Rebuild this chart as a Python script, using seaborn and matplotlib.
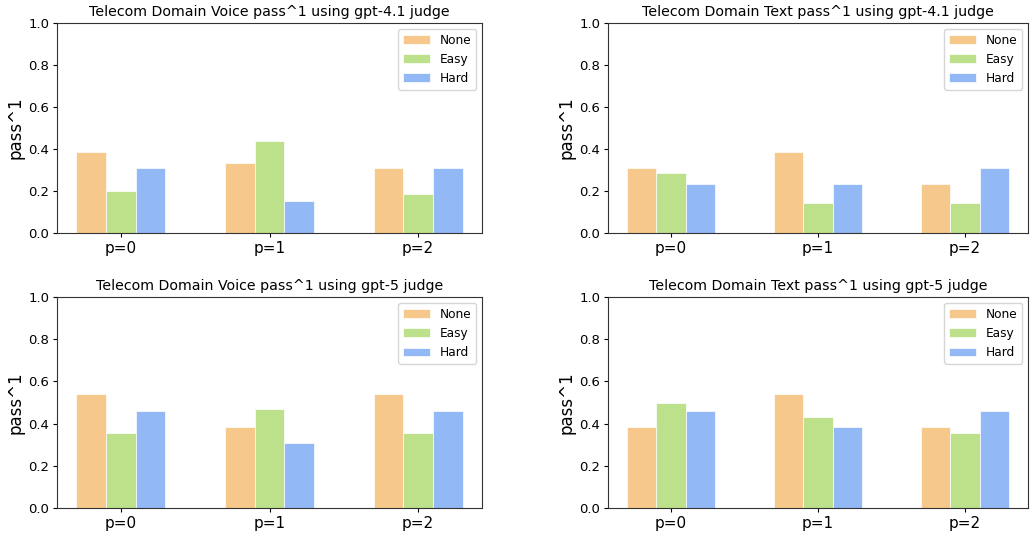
import pandas as pd
import seaborn as sns
import matplotlib
matplotlib.use('Agg')
import matplotlib.pyplot as plt

# data
positions = ['p=0', 'p=1', 'p=2']
levels = ['None', 'Easy', 'Hard']

voice_41 = {'None': [0.385, 0.333, 0.308], 'Easy': [0.200, 0.438, 0.188], 'Hard': [0.308, 0.154, 0.308]}
text_41 = {'None': [0.308, 0.385, 0.231], 'Easy': [0.286, 0.143, 0.143], 'Hard': [0.231, 0.231, 0.308]}
voice_5 = {'None': [0.538, 0.385, 0.538], 'Easy': [0.357, 0.467, 0.357], 'Hard': [0.462, 0.308, 0.462]}
text_5 = {'None': [0.385, 0.538, 0.385], 'Easy': [0.500, 0.429, 0.357], 'Hard': [0.462, 0.385, 0.462]}

titles = ['Telecom Domain Voice pass^1 using gpt-4.1 judge',
          'Telecom Domain Text pass^1 using gpt-4.1 judge',
          'Telecom Domain Voice pass^1 using gpt-5 judge',
          'Telecom Domain Text pass^1 using gpt-5 judge']

palette = {'None': '#f6c88b', 'Easy': '#bde08a', 'Hard': '#93b8f6'}


def to_long(d):
    rows = []
    for lvl in levels:
        for p, v in zip(positions, d[lvl]):
            rows.append({'p': p, 'level': lvl, 'value': v})
    return pd.DataFrame(rows)


fig = plt.figure(figsize=(10.30, 5.33), dpi=100)
W, H = 1030, 533
# axes boxes in pixels: left, top, right, bottom
boxes = [(57, 23, 482, 233), (608, 23, 1028, 233),
         (57, 297, 482, 508), (608, 297, 1028, 508)]

for data, title, (l, t, r, b) in zip([voice_41, text_41, voice_5, text_5], titles, boxes):
    ax = fig.add_axes([l / W, 1 - b / H, (r - l) / W, (b - t) / H])
    df = to_long(data)
    sns.barplot(data=df, x='p', y='value', hue='level', order=positions, hue_order=levels,
                palette=palette, saturation=1, width=0.6, ax=ax,
                edgecolor='white', linewidth=0.5)
    ax.set_xlim(-0.43, 2.43)
    ax.set_ylim(0, 1.0)
    ax.set_title(title, fontsize=10.2, pad=5)
    ax.set_xlabel('')
    ax.set_ylabel('pass^1', fontsize=12, labelpad=3)
    ax.tick_params(axis='x', labelsize=11, length=3, pad=2.5)
    ax.tick_params(axis='y', labelsize=9.5, length=3, pad=2.5)
    for s in ax.spines.values():
        s.set_linewidth(0.8)
        s.set_color('#333333')
    ax.legend(loc='upper right', fontsize=8.7, handlelength=2.2)

fig.savefig('out.png', dpi=100)
